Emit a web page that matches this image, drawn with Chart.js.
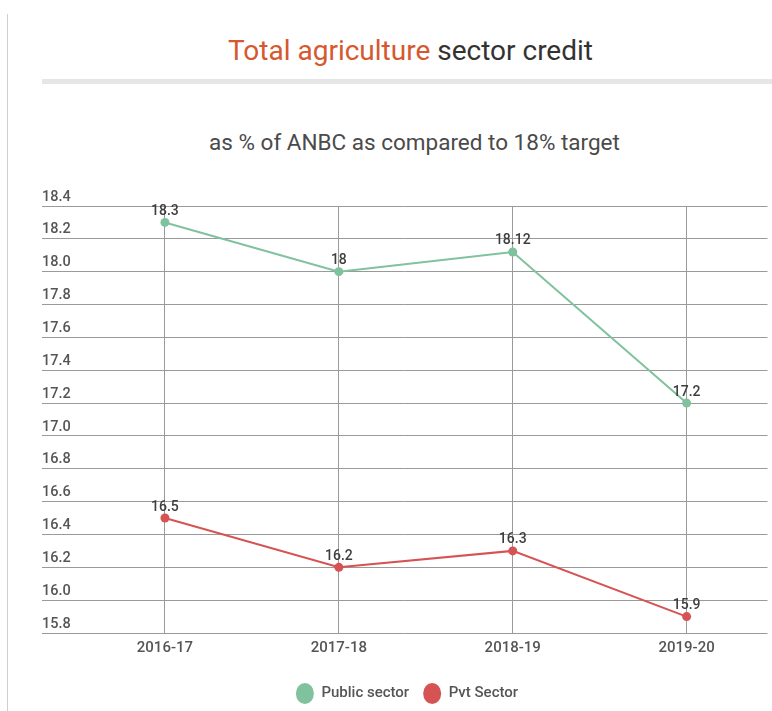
<!DOCTYPE html>
<html>
<head>
<meta charset="utf-8">
<title>Total agriculture sector credit</title>
<script src="https://cdn.jsdelivr.net/npm/chart.js@4/dist/chart.umd.min.js"></script>
<style>
  html, body { margin: 0; padding: 0; background: #fff; }
  body { width: 772px; height: 711px; position: relative; overflow: hidden; font-family: Roboto, "Noto Sans", sans-serif; }
  .frame-edge { position: absolute; left: 7px; top: 14px; width: 1px; bottom: 0; background: #cfcfcf; }
  .heading { position: absolute; left: 42px; width: 737px; top: 37px; font-size: 28px; line-height: 28px; text-align: center; color: #333; white-space: nowrap; }
  .heading .accent { color: #d6582e; }
  .rule { position: absolute; left: 42px; right: 0; top: 79px; height: 5px; background: #e6e6e6; }
  .subheading { position: absolute; left: 42px; width: 745px; top: 131px; font-size: 22.5px; line-height: 22px; text-align: center; color: #4a4a4a; white-space: nowrap; }
  #chart { position: absolute; left: 0; top: 0; }
</style>
</head>
<body>
<div class="frame-edge"></div>
<div class="heading"><span class="accent">Total agriculture</span> sector credit</div>
<div class="rule"></div>
<div class="subheading">as % of ANBC as compared to 18% target</div>
<canvas id="chart" width="772" height="711"></canvas>
<script>
// Financial years on the horizontal axis
const categories = ['2016-17', '2017-18', '2018-19', '2019-20'];
// Agriculture credit as % of ANBC
const publicSector = [18.3, 18, 18.12, 17.2];
const pvtSector = [16.5, 16.2, 16.3, 15.9];
// Value axis range and step
const yMin = 15.8;
const yMax = 18.4;
const yStep = 0.2;

const GREEN = '#7fc29d';
const RED = '#d65353';
const GRID = '#9a9a9a';
const TEXT = '#555';

const toPoints = vals => vals.map((v, i) => ({ x: i, y: v }));

// Writes each point's value just above its marker
const valueLabels = {
  id: 'valueLabels',
  afterDatasetsDraw(chart) {
    const ctx = chart.ctx;
    ctx.save();
    ctx.font = '500 14px Roboto';
    ctx.fillStyle = '#3e3e3e';
    ctx.textAlign = 'center';
    ctx.textBaseline = 'middle';
    chart.data.datasets.forEach((ds, di) => {
      const meta = chart.getDatasetMeta(di);
      meta.data.forEach((pt, i) => {
        ctx.fillText(String(ds.data[i].y), pt.x, pt.y - 11);
      });
    });
    ctx.restore();
  }
};

new Chart(document.getElementById('chart'), {
  type: 'line',
  data: {
    datasets: [
      {
        label: 'Public sector',
        data: toPoints(publicSector),
        borderColor: GREEN,
        backgroundColor: GREEN,
        pointBackgroundColor: GREEN,
        pointBorderColor: GREEN,
        borderWidth: 2,
        pointRadius: 4.5,
        pointBorderWidth: 0,
        tension: 0
      },
      {
        label: 'Pvt Sector',
        data: toPoints(pvtSector),
        borderColor: RED,
        backgroundColor: RED,
        pointBackgroundColor: RED,
        pointBorderColor: RED,
        borderWidth: 2,
        pointRadius: 4.5,
        pointBorderWidth: 0,
        tension: 0
      }
    ]
  },
  options: {
    responsive: false,
    animation: false,
    layout: { padding: { top: 206, left: 42, right: 0, bottom: 0 } },
    plugins: {
      title: { display: false },
      tooltip: { enabled: false },
      legend: {
        position: 'bottom',
        labels: {
          usePointStyle: true,
          pointStyle: 'circle',
          pointStyleWidth: 18,
          boxHeight: 15,
          padding: 14,
          color: TEXT,
          font: { family: 'Roboto', size: 15, weight: '500' }
        }
      }
    },
    scales: {
      x: {
        type: 'linear',
        min: -0.707,
        max: 3.465,
        afterBuildTicks: scale => { scale.ticks = categories.map((_, i) => ({ value: i })); },
        afterFit: scale => { scale.height += 9; },
        grid: { color: GRID, lineWidth: 1, drawTicks: false },
        border: { display: false },
        ticks: {
          padding: 6,
          color: TEXT,
          font: { family: 'Roboto', size: 15, weight: '500' },
          callback: v => categories[v]
        }
      },
      y: {
        position: 'left',
        min: yMin,
        max: yMax,
        grid: { color: GRID, lineWidth: 1, drawTicks: false },
        border: { display: false },
        ticks: {
          stepSize: yStep,
          mirror: true,
          padding: 0,
          labelOffset: -9,
          color: TEXT,
          font: { family: 'Roboto', size: 14.5, weight: '500' },
          callback: v => Number(v).toFixed(1)
        }
      }
    }
  },
  plugins: [valueLabels]
});
</script>
</body>
</html>
